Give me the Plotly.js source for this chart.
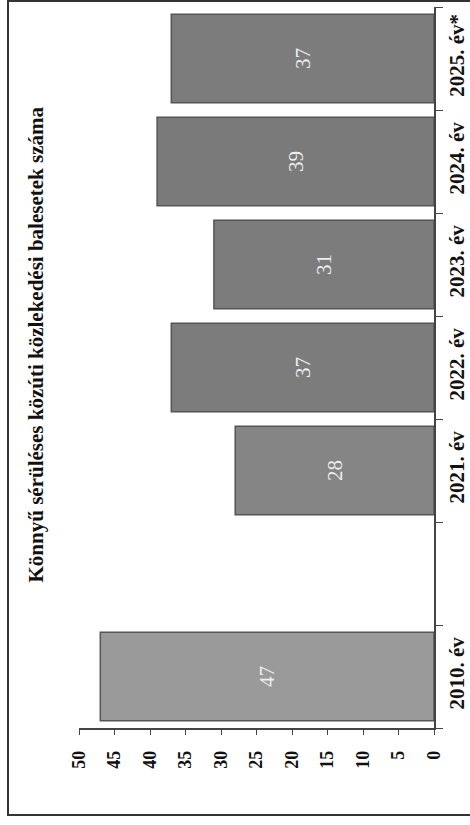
<!DOCTYPE html>
<html>
<head>
<meta charset="utf-8">
<script src="https://cdn.plot.ly/plotly-3.0.1.min.js"></script>
<style>
html,body{margin:0;padding:0;background:#fff;}
#chart{width:470px;height:825px;}
</style>
</head>
<body>
<div id="chart"></div>
<script>
// Data
var categories = ['2010. év', ' ', '2021. év', '2022. év', '2023. év', '2024. év', '2025. év*'];
var values = [47, null, 28, 37, 31, 39, 37];
var valueLabels = ['47', '', '28', '37', '31', '39', '37'];
var valueTicks = [0, 5, 10, 15, 20, 25, 30, 35, 40, 45, 50];
var chartTitle = 'Könnyű sérüléses közúti közlekedési balesetek száma';

var barColors = ['#9a9a9a', '#9a9a9a', '#858585', '#7c7c7c', '#7c7c7c', '#7a7a7a', '#7c7c7c'];

var serif = 'Liberation Serif, Times New Roman, serif';

var trace = {
  type: 'bar',
  orientation: 'h',
  y: categories,
  x: values,
  text: valueLabels,
  textposition: 'inside',
  insidetextanchor: 'middle',
  textangle: -90,
  textfont: {family: serif, size: 21, color: '#eeeeee'},
  marker: {color: barColors, line: {color: '#555555', width: 1.5}},
  hoverinfo: 'none',
  cliponaxis: false
};

var layout = {
  width: 470,
  height: 825,
  margin: {l: 79, r: 36, t: 7, b: 97},
  paper_bgcolor: '#ffffff',
  plot_bgcolor: '#ffffff',
  showlegend: false,
  bargap: 0.14,
  font: {family: serif, color: '#111'},
  xaxis: {
    range: [50, 0],
    tickvals: valueTicks,
    ticktext: valueTicks.map(String),
    tickangle: -90,
    tickfont: {family: serif, size: 18, color: '#111', weight: 'bold'},
    ticks: 'outside',
    ticklen: 5,
    tickcolor: '#444',
    ticklabelstandoff: 9,
    showline: true,
    linecolor: '#444',
    linewidth: 1.5,
    showgrid: false,
    zeroline: false,
    fixedrange: true
  },
  yaxis: {
    type: 'category',
    categoryorder: 'array',
    categoryarray: categories,
    range: [-0.5, 6.5],
    side: 'right',
    tickson: 'boundaries',
    ticks: 'outside',
    ticklen: 7,
    tickcolor: '#444',
    tickangle: -90,
    ticklabelstandoff: 3,
    tickfont: {family: serif, size: 21, color: '#111', weight: 'bold'},
    showline: true,
    linecolor: '#444',
    linewidth: 1.5,
    showgrid: false,
    zeroline: false,
    fixedrange: true
  },
  annotations: [{
    text: chartTitle,
    xref: 'paper', yref: 'paper',
    x: -0.121, y: 0.532,
    xanchor: 'center', yanchor: 'middle',
    textangle: -90,
    showarrow: false,
    font: {family: serif, size: 21, color: '#111', weight: 'bold'}
  }],
  shapes: [{
    type: 'rect',
    xref: 'paper', yref: 'paper',
    x0: -0.2, x1: 1.2,
    y0: -0.1207, y1: 1.0083,
    line: {color: '#333', width: 2},
    fillcolor: 'rgba(0,0,0,0)'
  }]
};

Plotly.newPlot('chart', [trace], layout, {displayModeBar: false, staticPlot: true});
</script>
</body>
</html>
